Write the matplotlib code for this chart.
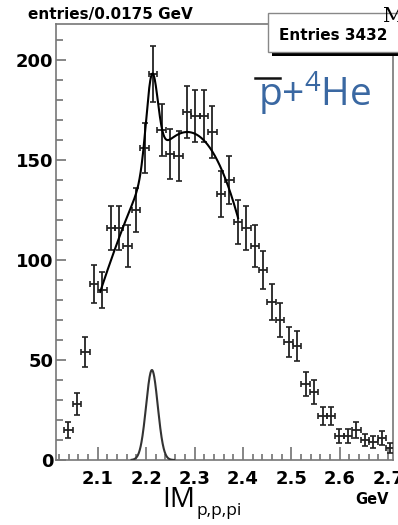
import numpy as np
import matplotlib
matplotlib.use("Agg")
import matplotlib.pyplot as plt
from matplotlib.patches import Rectangle
from matplotlib.lines import Line2D
from matplotlib.ticker import MultipleLocator

plt.rcParams["mathtext.fontset"] = "custom"
plt.rcParams["mathtext.rm"] = "Open Sans"
plt.rcParams["mathtext.it"] = "Open Sans"

# histogram: 39 bins of 0.0175 GeV
bin_width = 0.0175
first_center = 2.0395
counts = [15, 28, 54, 88, 85, 116, 116, 107, 125, 156,
          193, 165, 153, 152, 174, 172, 172, 164, 133, 140,
          119, 116, 107, 95, 79, 70, 59, 57, 38, 34,
          22, 22, 12, 12, 15, 10, 9, 11, 6]
entries = 3432

# fit: gaussian peak on a cubic background
peak_amp = 45.0
peak_mean = 2.212
peak_sigma = 0.012
bg_top = 164.0
bg_center = 2.285
bg_a = 3372.0
bg_b = -5025.0
fit_range = (2.105, 2.39)
peak_range = (2.170, 2.258)

centers = first_center + bin_width * np.arange(len(counts))
counts = np.array(counts, dtype=float)
errors = np.sqrt(counts)


def peak(x):
    return peak_amp * np.exp(-0.5 * ((x - peak_mean) / peak_sigma) ** 2)


def background(x):
    t = x - bg_center
    return bg_top - bg_a * t ** 2 + bg_b * t ** 3


W, H = 398, 525
fig = plt.figure(figsize=(W / 100, H / 100), dpi=100)
ax = fig.add_axes([56 / W, 1 - 460 / H, (393 - 56) / W, (460 - 24) / H])

ax.errorbar(centers, counts, yerr=errors, xerr=bin_width / 2,
            fmt="none", ecolor="#222222", elinewidth=1.3,
            capsize=2.5, capthick=1.2, zorder=3)

xf = np.linspace(*fit_range, 400)
ax.plot(xf, peak(xf) + background(xf), color="black", lw=1.5, zorder=4)
xp = np.linspace(*peak_range, 200)
ax.plot(xp, peak(xp), color="#333333", lw=1.5, zorder=4)

ax.set_xlim(2.0138, 2.7101)
ax.set_ylim(0, 218)

ax.xaxis.set_major_locator(MultipleLocator(0.1))
ax.xaxis.set_minor_locator(MultipleLocator(0.02))
ax.yaxis.set_major_locator(MultipleLocator(50))
ax.yaxis.set_minor_locator(MultipleLocator(10))
ax.tick_params(axis="both", which="both", direction="in", color="#666666",
               width=1.1, labelsize=13)
ax.tick_params(axis="x", which="major", length=9.5, pad=7)
ax.tick_params(axis="x", which="minor", length=4.5)
ax.tick_params(axis="y", which="major", length=7.5, pad=2)
ax.tick_params(axis="y", which="minor", length=5)
ax.tick_params(top=False, right=False)
ax.set_xticks([2.1, 2.2, 2.3, 2.4, 2.5, 2.6, 2.7])
ax.set_xticklabels(["2.1", "2.2", "2.3", "2.4", "2.5", "2.6", "2.7"])
for lab in ax.get_xticklabels() + ax.get_yticklabels():
    lab.set_fontweight("bold")
for sp in ax.spines.values():
    sp.set_color("#777777")
    sp.set_linewidth(1.2)

# axis titles
fig.text(28 / W, 1 - 14 / H, "entries/0.0175 GeV", fontsize=11,
         fontweight="bold", ha="left", va="center")
fig.text(389 / W, 1 - 500 / H, "GeV", fontsize=10.5, fontweight="bold",
         ha="right", va="center")
fig.text(162 / W, 1 - 507 / H, "IM", fontsize=20, family="Open Sans",
         ha="left", va="baseline")
fig.text(197 / W, 1 - 515 / H, "p,p,pi", fontsize=12.5, family="Open Sans",
         ha="left", va="baseline")

# stats box
fig.patches.append(Rectangle((272 / W, 1 - 56 / H), 130 / W, 5 / H,
                             transform=fig.transFigure, facecolor="black",
                             edgecolor="none", zorder=5))
fig.patches.append(Rectangle((268 / W, 1 - 52 / H), 135 / W, 39 / H,
                             transform=fig.transFigure, facecolor="white",
                             edgecolor="#888888", lw=1.0, zorder=6))
fig.text(333 / W, 1 - 35 / H, f"Entries {entries}", fontsize=11,
         fontweight="bold", ha="center", va="center", zorder=7)
fig.text(383 / W, 1 - 22 / H, "M", fontsize=15, family="DejaVu Serif",
         ha="left", va="baseline", zorder=7)

# reaction label
fig.text(258 / W, 1 - 107 / H, r"p+$^{4}$He", fontsize=28,
         family="Open Sans", color="#3a68a2", ha="left", va="baseline")
fig.add_artist(Line2D([255 / W, 280 / W], [1 - 78 / H, 1 - 78 / H],
                      transform=fig.transFigure, color="#111111", lw=1.8))

fig.savefig("out.png", dpi=100)
